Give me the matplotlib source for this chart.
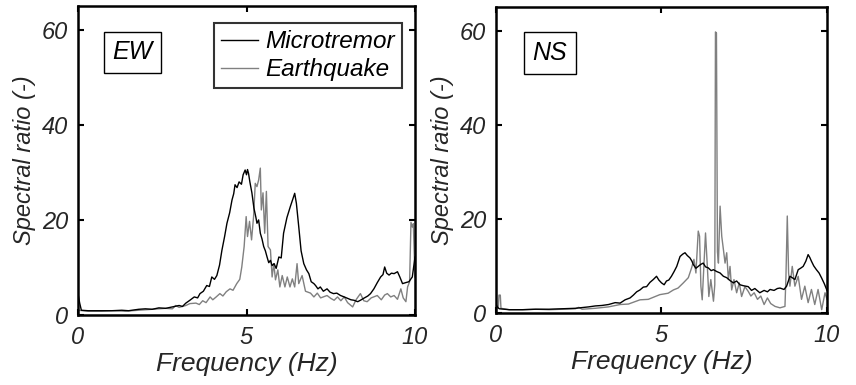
import matplotlib
matplotlib.use('Agg')
import matplotlib.pyplot as plt

# EW component
ew_mic_f = [0.0, 0.05, 0.1, 0.3, 0.6, 1.0, 1.3, 1.5, 1.8, 2.0, 2.2, 2.4, 2.6, 2.8, 3.0, 3.1, 3.2, 3.32, 3.45,
            3.55, 3.62, 3.72, 3.82, 3.9, 3.97, 4.05, 4.12, 4.2, 4.27, 4.35, 4.42, 4.5, 4.57, 4.62, 4.66, 4.72,
            4.78, 4.85, 4.9, 4.96, 5.0, 5.03, 5.06, 5.1, 5.16, 5.22, 5.28, 5.31, 5.36, 5.41, 5.46, 5.51, 5.56,
            5.61, 5.66, 5.71, 5.76, 5.82, 5.88, 5.96, 6.03, 6.1, 6.2, 6.3, 6.38, 6.43, 6.48, 6.55, 6.62, 6.7,
            6.78, 6.85, 6.92, 7.0, 7.05, 7.12, 7.19, 7.28, 7.39, 7.48, 7.58, 7.68, 7.79, 7.9, 8.0, 8.1, 8.19,
            8.3, 8.38, 8.5, 8.6, 8.68, 8.78, 8.88, 8.98, 9.05, 9.1, 9.16, 9.23, 9.3, 9.38, 9.48, 9.55, 9.63,
            9.72, 9.82, 9.92, 10.0]
ew_mic_v = [4.5, 2.5, 1.0, 0.9, 0.9, 0.9, 1.0, 0.9, 1.2, 1.3, 1.2, 1.5, 1.4, 1.7, 2.0, 1.8, 2.5, 3.1, 3.8,
            3.6, 4.5, 5.0, 6.2, 6.0, 8.0, 7.5, 8.3, 10.5, 13.6, 16.5, 19.3, 21.5, 24.2, 25.5, 27.4, 26.8,
            28.0, 27.5, 29.5, 30.5, 29.5, 30.6, 29.8, 28.0, 25.7, 22.5, 20.5, 19.3, 20.0, 17.2, 16.0, 14.4, 13.5,
            12.2, 11.0, 11.5, 10.4, 10.8, 9.8, 12.2, 12.0, 17.2, 20.5, 22.8, 24.5, 25.6, 23.5, 18.6, 13.5, 10.8,
            9.5, 8.7, 7.0, 6.6, 6.2, 5.5, 5.9, 5.0, 5.5, 4.8, 4.5, 4.6, 4.1, 3.8, 3.5, 3.2, 3.1,
            2.8, 3.1, 3.6, 4.0, 4.5, 5.5, 6.8, 8.0, 8.5, 10.1, 8.8, 8.4, 8.8, 8.7, 9.1, 8.0, 6.6,
            6.8, 7.0, 8.0, 12.2]

ew_eq_f = [0.0, 0.3, 0.7, 1.0, 1.4, 1.8, 2.2, 2.6, 2.8, 2.9, 3.0, 3.2, 3.32, 3.5, 3.6, 3.7, 3.8, 3.92, 4.0,
           4.1, 4.21, 4.3, 4.4, 4.51, 4.6, 4.71, 4.8, 4.86, 4.93, 4.99, 5.03, 5.09, 5.15, 5.21, 5.26, 5.31,
           5.36, 5.41, 5.44, 5.49, 5.54, 5.59, 5.64, 5.71, 5.76, 5.81, 5.86, 5.93, 5.99, 6.06, 6.14, 6.21,
           6.29, 6.36, 6.43, 6.5, 6.55, 6.65, 6.75, 6.9, 7.0, 7.1, 7.2, 7.39, 7.5, 7.6, 7.7, 7.8, 7.9, 8.0,
           8.15, 8.25, 8.38, 8.48, 8.58, 8.7, 8.88, 9.0, 9.1, 9.18, 9.28, 9.38, 9.48, 9.58, 9.65, 9.73,
           9.78, 9.84, 9.88, 9.92, 9.95, 10.0]
ew_eq_v = [1.0, 0.8, 0.8, 0.9, 0.8, 1.0, 1.2, 1.4, 1.3, 2.0, 1.6, 2.0, 2.4, 2.5, 2.2, 3.0, 2.6, 3.8, 3.2,
           3.8, 4.5, 4.0, 4.9, 5.5, 5.2, 6.6, 7.5, 10.1, 14.4, 20.7, 16.5, 19.7, 15.8, 20.7, 27.7, 27.0,
           28.4, 30.9, 22.1, 25.7, 17.2, 26.0, 14.4, 13.7, 8.0, 10.8, 7.4, 9.5, 5.9, 8.3, 5.9, 8.0,
           5.9, 7.6, 5.9, 10.8, 6.6, 8.3, 5.0, 4.6, 3.8, 4.6, 3.6, 4.1, 3.5, 3.1, 3.8, 3.0, 3.8, 2.6,
           1.7, 3.2, 4.5, 3.0, 2.8, 3.6, 4.1, 3.2, 4.2, 4.5, 3.8, 4.1, 3.3, 5.5, 3.6, 2.8,
           5.9, 7.0, 19.5, 18.5, 19.2, 8.0]

# NS component
ns_mic_f = [0.0, 0.05, 0.1, 0.4, 0.8, 1.2, 1.6, 2.0, 2.4, 2.8, 3.0, 3.2, 3.4, 3.6, 3.75, 3.9, 4.05, 4.15,
            4.25, 4.35, 4.45, 4.55, 4.65, 4.75, 4.85, 4.92, 5.0, 5.08, 5.15, 5.22, 5.3, 5.38, 5.46, 5.56,
            5.64, 5.71, 5.78, 5.86, 5.92, 5.96, 6.04, 6.11, 6.18, 6.26, 6.33, 6.41, 6.5, 6.57, 6.67, 6.77,
            6.87, 6.97, 7.07, 7.17, 7.27, 7.37, 7.47, 7.62, 7.72, 7.82, 7.97, 8.1, 8.2, 8.28, 8.4, 8.5,
            8.58, 8.7, 8.78, 8.88, 8.95, 9.03, 9.13, 9.2, 9.28, 9.36, 9.43, 9.48, 9.53, 9.6, 9.68, 9.76,
            9.84, 9.92, 10.0]
ns_mic_v = [1.8, 1.2, 0.9, 0.7, 0.7, 0.8, 0.8, 0.9, 1.0, 1.3, 1.5, 1.6, 1.8, 2.2, 2.1, 2.8, 3.2, 3.8,
            4.5, 4.9, 5.5, 5.6, 6.5, 7.1, 7.8, 7.0, 6.4, 6.0, 6.8, 7.0, 7.8, 8.8, 9.9, 12.0,
            12.5, 12.8, 12.2, 11.7, 11.0, 10.3, 9.5, 9.9, 10.3, 10.6, 9.8, 9.6, 9.0, 9.2, 8.8, 8.5,
            7.8, 7.5, 6.9, 6.4, 6.8, 6.0, 5.8, 5.6, 4.8, 5.2, 4.3, 4.8, 4.5, 5.0, 4.8, 5.2,
            5.3, 5.0, 5.7, 7.8, 7.5, 7.1, 9.2, 9.5, 9.9, 11.0, 12.4, 11.8, 11.0, 10.0, 9.2, 8.5,
            7.4, 6.2, 4.8]

ns_eq_f = [0.0, 0.07, 0.09, 0.13, 0.15, 0.4, 0.8, 1.2, 1.6, 2.0, 2.4, 2.5, 2.6, 3.0, 3.4, 3.75, 4.0, 4.35,
           4.6, 4.95, 5.2, 5.36, 5.5, 5.66, 5.81, 5.91, 5.98, 6.04, 6.11, 6.15, 6.19, 6.23, 6.27, 6.33,
           6.39, 6.43, 6.49, 6.57, 6.61, 6.63, 6.66, 6.69, 6.72, 6.77, 6.82, 6.87, 6.92, 6.97, 7.02, 7.07,
           7.12, 7.19, 7.27, 7.35, 7.42, 7.52, 7.62, 7.7, 7.8, 7.9, 8.0, 8.1, 8.2, 8.3, 8.43, 8.58, 8.73,
           8.76, 8.8, 8.84, 8.88, 8.95, 9.03, 9.13, 9.23, 9.33, 9.43, 9.53, 9.63, 9.73, 9.84, 9.94, 10.0]
ns_eq_v = [1.5, 1.0, 3.8, 3.8, 1.0, 0.7, 0.7, 0.8, 0.7, 0.8, 0.9, 1.2, 0.8, 1.0, 1.3, 1.8, 1.9, 2.8,
           2.9, 3.9, 4.2, 4.9, 5.3, 6.4, 7.5, 9.6, 11.4, 8.5, 17.4, 16.3, 5.7, 2.8, 8.5, 17.0,
           9.2, 3.5, 7.1, 2.5, 6.0, 59.7, 59.5, 13.0, 10.6, 22.7, 16.3, 13.5, 10.6, 12.8, 7.1, 9.9,
           4.9, 7.1, 4.3, 6.4, 3.5, 5.6, 4.6, 3.6, 4.3, 2.9, 3.6, 1.8, 3.2, 2.0, 1.4, 1.1, 1.4,
           7.8, 20.6, 8.5, 5.7, 9.9, 5.7, 7.8, 2.9, 5.7, 2.2, 5.0, 1.8, 5.0, 0.7, 4.3, 2.9]

xticks = [0, 5, 10]
yticks = [0, 20, 40, 60]
panel_names = ['EW', 'NS']
series_names = ['Microtremor', 'Earthquake']

plt.rcParams['font.family'] = ['Liberation Sans', 'DejaVu Sans']
plt.rcParams['font.style'] = 'italic'
txt = '#262626'

fig = plt.figure(figsize=(8.56, 3.85), dpi=100)
W, H = 856, 385
ax1 = fig.add_axes([78 / W, (H - 315) / H, 337 / W, 309 / H])
ax2 = fig.add_axes([496 / W, (H - 313) / H, 331 / W, 306 / H])

data = [(ew_mic_f, ew_mic_v, ew_eq_f, ew_eq_v), (ns_mic_f, ns_mic_v, ns_eq_f, ns_eq_v)]
for ax, name, (mf, mv, ef, ev) in zip([ax1, ax2], panel_names, data):
    ax.plot(mf, mv, color='black', lw=1.0, label=series_names[0], zorder=3)
    ax.plot(ef, ev, color='#808080', lw=1.0, label=series_names[1], zorder=2)
    ax.set_xlim(0, 10)
    ax.set_ylim(0, 65)
    ax.set_xticks(xticks)
    ax.set_yticks(yticks)
    ax.tick_params(direction='in', top=True, right=True, length=4, width=1.5,
                   labelsize=17, labelcolor=txt)
    ax.tick_params(axis='x', pad=8)
    ax.tick_params(axis='y', pad=7)
    for lab in ax.get_xticklabels() + ax.get_yticklabels():
        lab.set_fontstyle('italic')
    for s in ax.spines.values():
        s.set_linewidth(1.8)
    ax.set_xlabel('Frequency (Hz)', fontsize=19, color=txt, labelpad=2)
    ax.set_ylabel('Spectral ratio (-)', fontsize=17, color=txt, labelpad=4)
    ax.text(0.162, 0.85, name, transform=ax.transAxes, fontsize=18, ha='center', va='center',
            bbox=dict(boxstyle='square,pad=0.35', fc='white', ec='black', lw=1.0))

leg = ax1.legend(loc='upper right', bbox_to_anchor=(0.961, 0.945), borderaxespad=0,
                 fontsize=17.5, frameon=True, fancybox=False, handlelength=1.5,
                 handletextpad=0.3, labelspacing=0.2, borderpad=0.3)
leg.get_frame().set_edgecolor('black')
leg.get_frame().set_linewidth(1.5)

fig.savefig('out.png', dpi=100)
